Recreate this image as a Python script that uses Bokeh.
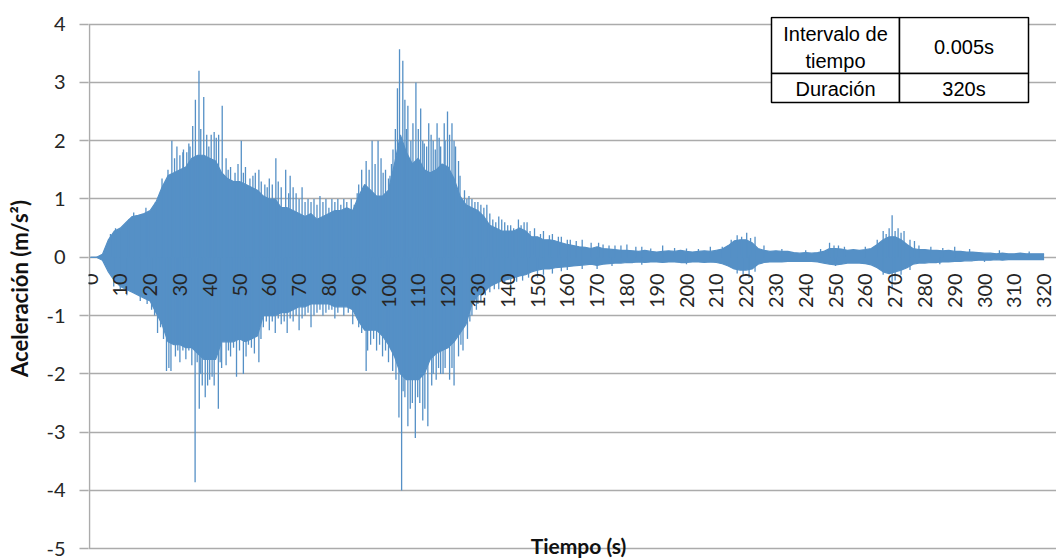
import numpy as np
from bokeh.plotting import figure
from bokeh.models import Range1d, FixedTicker
from bokeh.core.properties import value
from bokeh.embed import file_html
from bokeh.resources import INLINE

# ---------------- data ----------------
duration = 320
t_core = np.arange(0, duration + 1, 2)  # 2-s sampling grid of the envelope

upper_env = [
    0.0, 0.0, 0.05, 0.3, 0.45, 0.5, 0.6, 0.7, 0.72, 0.75,
    0.8, 0.95, 1.2, 1.4, 1.45, 1.5, 1.55, 1.7, 1.75, 1.75,
    1.7, 1.65, 1.45, 1.35, 1.3, 1.3, 1.25, 1.2, 1.15, 1.05,
    1.0, 1.0, 0.85, 0.85, 0.8, 0.75, 0.7, 0.75, 0.65, 0.7,
    0.75, 0.8, 0.8, 0.85, 0.8, 1.05, 1.25, 1.15, 1.05, 1.05,
    1.15, 1.6, 2.1, 1.8, 1.6, 1.7, 1.5, 1.45, 1.5, 1.6,
    1.55, 1.35, 1.05, 0.9, 0.85, 0.8, 0.7, 0.55, 0.5, 0.45,
    0.45, 0.45, 0.5, 0.45, 0.35, 0.35, 0.3, 0.3, 0.28, 0.25,
    0.22, 0.2, 0.18, 0.17, 0.15, 0.18, 0.15, 0.14, 0.13, 0.12,
    0.12,
    0.11, 0.1, 0.12, 0.1, 0.09, 0.1, 0.11, 0.1, 0.12, 0.1,
    0.09, 0.1, 0.11, 0.1, 0.12, 0.14, 0.2,
    0.28, 0.3, 0.3, 0.25, 0.15,
    0.12, 0.1, 0.11, 0.1, 0.1, 0.08, 0.07, 0.08, 0.07, 0.08, 0.1,
    0.15, 0.15, 0.14, 0.12, 0.13, 0.12, 0.13, 0.15, 0.22, 0.3,
    0.35, 0.35, 0.3, 0.22, 0.15, 0.13, 0.13, 0.12, 0.12, 0.11,
    0.12, 0.1, 0.1, 0.09, 0.09, 0.08, 0.07,
    0.07, 0.06, 0.07, 0.06, 0.06, 0.07, 0.06, 0.06, 0.06, 0.06,
]

lower_env = [
    0.0, 0.0, -0.05, -0.25, -0.4, -0.5, -0.55, -0.6, -0.65, -0.7,
    -0.75, -0.95, -1.15, -1.45, -1.5, -1.5, -1.55, -1.55, -1.65, -1.75,
    -1.75, -1.75, -1.45, -1.45, -1.45, -1.4, -1.45, -1.4, -1.35, -1.0,
    -1.0, -1.0, -0.95, -0.95, -0.9, -0.85, -0.85, -0.8, -0.8, -0.8,
    -0.8, -0.85, -0.85, -0.85, -0.9, -1.1, -1.25, -1.25, -1.25, -1.35,
    -1.5, -1.7, -2.0, -2.1, -2.1, -2.1, -2.0, -1.75, -1.65, -1.6,
    -1.55, -1.45, -1.3, -1.15, -0.8, -0.65, -0.6, -0.5, -0.45, -0.4,
    -0.38, -0.35, -0.32, -0.3, -0.25, -0.22, -0.2, -0.2, -0.18, -0.17,
    -0.16, -0.15, -0.14, -0.13, -0.12, -0.14, -0.12, -0.11, -0.1, -0.1,
    -0.09,
    -0.09, -0.08, -0.09, -0.08, -0.08, -0.09, -0.08, -0.08, -0.09, -0.09,
    -0.08, -0.08, -0.09, -0.08, -0.09, -0.11, -0.15,
    -0.2, -0.22, -0.22, -0.2, -0.12,
    -0.09, -0.08, -0.08, -0.08, -0.07, -0.07, -0.07, -0.07, -0.07, -0.08, -0.1,
    -0.12, -0.13, -0.12, -0.1, -0.1, -0.1, -0.11, -0.13, -0.18, -0.25,
    -0.28, -0.25, -0.22, -0.18, -0.12, -0.1, -0.1, -0.09, -0.09, -0.08,
    -0.08, -0.07, -0.07, -0.06, -0.06, -0.05, -0.05,
    -0.05, -0.04, -0.05, -0.04, -0.04, -0.04, -0.04, -0.04, -0.04, -0.04,
]
assert len(upper_env) == len(t_core) and len(lower_env) == len(t_core)

# individual peaks standing out of the envelope (time s, acceleration m/s2)
peaks_up = [
    (6.7, 0.4), (8.4, 0.5), (10, 0.45), (12.8, 0.65), (14.5, 0.77), (16.7, 0.72), (18.6, 0.85),
    (19.5, 0.7), (21.8, 0.95), (24, 1.35), (24.5, 1.2), (26, 1.5), (27.3, 2.0), (28.2, 1.7),
    (29, 1.9), (30, 1.75), (31, 1.8), (31.2, 1.85), (32.3, 1.8), (33, 1.95), (33.4, 1.9),
    (34.3, 2.25), (35.2, 2.7), (36.4, 3.2), (37, 2.2), (38, 2.75), (39, 2.1), (39.7, 1.9),
    (40.5, 2.1), (41.5, 2.15), (42.2, 2.05), (43, 2.1), (44.2, 2.6), (45.5, 1.7), (46.2, 1.5),
    (47, 1.55), (48.5, 1.45), (49.5, 1.6), (50.6, 2.0), (51.3, 1.45), (52, 1.55), (53.5, 1.35),
    (54.5, 1.4), (55.3, 1.45), (56.5, 1.5), (57.3, 1.3), (58.5, 1.25), (59.3, 1.2), (60, 1.35),
    (61, 1.25), (62.2, 1.7), (63, 1.3), (64, 1.2), (65.5, 1.5), (66.5, 1.1), (67, 1.4),
    (68, 1.2), (69, 1.1), (70, 1.0), (71, 1.2), (72, 0.95), (73, 1.0), (74, 0.95), (75, 1.0),
    (76, 0.9), (77, 1.05), (78, 0.95), (79, 1.0), (80, 0.85), (81, 1.0), (82, 0.95), (83, 1.0),
    (84, 0.9), (85, 1.0), (86, 0.95), (87.5, 1.0), (88.5, 0.9), (89.5, 1.1), (90, 1.25),
    (91, 1.5), (92.5, 1.65), (93.5, 1.5), (94.5, 2.0), (95.5, 1.6), (96.5, 2.0), (97.5, 1.7),
    (98.2, 1.45), (99, 1.5), (100, 1.35), (100.5, 1.4), (101, 1.6), (101.5, 1.85), (102.3, 2.2),
    (103, 2.9), (103.7, 3.57), (104.8, 3.37), (105.5, 2.7), (106, 2.2), (106.5, 2.6),
    (107.5, 2.0), (108.2, 2.3), (109.2, 3.0), (110, 2.2), (110.8, 2.55), (111.5, 2.0),
    (112, 1.95), (112.8, 1.9), (113.5, 2.3), (114.3, 2.1), (115, 2.0), (115.7, 1.85),
    (116.3, 2.3), (117, 2.05), (117.5, 1.9), (118.7, 2.3), (119, 2.0), (119.8, 2.5),
    (120.5, 2.1), (121.3, 2.3), (122, 2.0), (122.5, 1.9), (123.5, 1.65), (124, 1.4),
    (125.5, 1.15), (126.3, 1.0), (127, 1.05), (128, 1.0), (129, 0.95), (130, 0.95), (131, 0.9),
    (132, 0.85), (133, 0.9), (134, 0.75), (135, 0.65), (136, 0.6), (137, 0.7), (138, 0.65),
    (139, 0.6), (140, 0.55), (141, 0.55), (142, 0.5), (143.6, 0.65), (144.5, 0.55),
    (145.5, 0.6), (146.5, 0.6), (147.5, 0.45), (149, 0.5), (151, 0.4), (152, 0.45), (154, 0.38),
    (155, 0.4), (157, 0.35), (158, 0.35), (160, 0.3), (161, 0.3), (163, 0.28), (165, 0.3),
    (168, 0.25), (170.5, 0.25), (172, 0.22), (174, 0.2), (176, 0.2), (178, 0.2), (180, 0.22),
    (183, 0.18), (185, 0.18), (188, 0.15), (192, 0.2), (196, 0.16), (200, 0.15), (204, 0.14),
    (208, 0.18), (212, 0.18), (215, 0.3), (217, 0.38), (218.5, 0.35), (220.2, 0.42),
    (221.5, 0.33), (223, 0.35), (226, 0.2), (232, 0.14), (240, 0.12), (245, 0.14), (248, 0.25),
    (249.5, 0.2), (251, 0.2), (253, 0.18), (260, 0.18), (264, 0.3), (266, 0.45), (267, 0.4),
    (268, 0.5), (269, 0.72), (270, 0.45), (271, 0.5), (272, 0.42), (273, 0.45), (275, 0.3),
    (276.5, 0.28), (278, 0.2), (282, 0.18), (286, 0.16), (290, 0.18), (295, 0.14),
    (305, 0.12), (315, 0.1),
]
peaks_dn = [
    (7.8, -0.5), (10, -0.55), (12.2, -0.65), (14.5, -0.6), (16.7, -0.75), (19, -0.8),
    (20.5, -0.9), (21.5, -1.0), (22.5, -1.3), (23.5, -1.2), (24.5, -1.4), (25.5, -1.95),
    (26.3, -1.9), (27, -1.95), (28.5, -1.7), (29.3, -1.6), (30, -1.8), (31, -1.6), (32, -1.75),
    (33, -1.6), (34, -1.85), (35.1, -3.86), (35.8, -1.8), (36.5, -2.6), (37, -2.0),
    (37.5, -2.2), (38.5, -2.4), (39.3, -2.2), (40, -2.1), (40.8, -2.05), (41.5, -2.2),
    (42.9, -2.6), (43.5, -1.8), (44, -1.9), (45.5, -1.85), (46.3, -1.6), (47, -1.7),
    (48, -1.55), (49, -2.05), (50, -1.6), (51.3, -2.0), (52.2, -1.7), (53, -1.5), (54, -1.55),
    (55, -1.65), (56.5, -1.8), (57.2, -1.4), (58, -1.2), (59, -1.1), (60, -1.25), (61, -1.1),
    (62, -1.3), (63, -1.05), (64, -1.15), (65, -1.1), (66, -1.3), (67, -1.05), (68, -1.1),
    (69, -1.0), (70, -1.25), (71, -1.05), (72, -1.0), (73, -0.95), (74, -1.2), (75, -1.0),
    (76, -0.95), (77, -0.9), (78, -1.0), (79, -0.95), (80, -0.9), (81, -0.9), (82, -1.05),
    (83, -0.95), (85, -1.0), (86.5, -0.95), (88, -1.15), (89, -1.0), (90, -1.2), (91, -1.3),
    (92.5, -1.95), (93, -1.6), (94, -1.5), (95, -1.4), (96, -1.6), (97, -1.5), (98, -1.7),
    (99, -1.6), (100, -1.8), (101.4, -1.95), (102.5, -2.1), (103.5, -2.75), (104.4, -4.0),
    (104.9, -2.3), (105.5, -2.4), (106.5, -2.9), (107.3, -2.6), (108, -2.5), (109, -3.1),
    (109.8, -2.4), (110.5, -2.5), (111.5, -2.8), (112.2, -2.6), (113.2, -2.9), (114.5, -2.2),
    (115, -2.0), (116, -2.1), (116.8, -1.9), (117.5, -2.0), (118.3, -2.0), (119, -1.9),
    (120.5, -2.1), (121.3, -1.9), (122, -2.2), (123.5, -1.7), (124.3, -1.5), (125, -1.6),
    (126.5, -1.4), (127.3, -1.1), (128, -1.0), (129.5, -0.9), (130, -0.8), (131, -0.75),
    (132.5, -0.65), (134, -0.6), (135.5, -0.55), (137, -0.55), (139, -0.45), (141, -0.5),
    (143, -0.42), (145, -0.4), (147, -0.35), (150, -0.35), (152, -0.3), (155, -0.28),
    (158, -0.24), (160, -0.22), (165, -0.2), (170, -0.2), (175, -0.15), (185, -0.13),
    (200, -0.12), (217, -0.28), (219, -0.3), (221, -0.35), (223, -0.25), (250, -0.15),
    (266, -0.3), (269, -0.55), (270, -0.4), (272, -0.3), (275, -0.22), (285, -0.12),
    (300, -0.08),
]
peak_up_t = [a for a, b in peaks_up]
peak_up_v = [b for a, b in peaks_up]
peak_dn_t = [a for a, b in peaks_dn]
peak_dn_v = [b for a, b in peaks_dn]

y_ticks = [-5, -4, -3, -2, -1, 0, 1, 2, 3, 4]
y_tick_labels = {v: str(v) for v in y_ticks}  # plain hyphen-minus, as in the original
x_ticks = list(range(0, duration + 1, 10))
x_tick_labels = [str(v) for v in x_ticks]

table_left = ["Intervalo de", "tiempo", "Duración"]
table_right = ["0.005s", "320s"]

# ---------------- layout ----------------
W, H = 1056, 560
FRAME_L, FRAME_T = 88, 16
PXS = 2.98
PYS = 58.3
X0 = -2 / PXS
X1 = X0 + (W - FRAME_L) / PXS
Y1 = 4.13
Y0 = Y1 - (H - FRAME_T) / PYS

def tx(px):
    return X0 + (px - FRAME_L) / PXS

def ty(py):
    return Y1 - (py - FRAME_T) / PYS

BLUE = "#5590C6"
GRID = "#ABABAB"

p = figure(width=W, height=H, output_backend="svg", toolbar_location=None,
           x_range=Range1d(X0, X1), y_range=Range1d(Y0, Y1),
           x_axis_location=None,
           min_border_left=FRAME_L, min_border_right=0,
           min_border_top=FRAME_T, min_border_bottom=0)
p.outline_line_color = None
p.background_fill_color = "white"
p.border_fill_color = "white"
p.xgrid.visible = False
p.ygrid.ticker = FixedTicker(ticks=y_ticks)
p.ygrid.grid_line_color = GRID
p.ygrid.grid_line_width = 1.3

ax = p.yaxis[0]
ax.ticker = FixedTicker(ticks=y_ticks)
ax.major_label_overrides = y_tick_labels
ax.axis_line_color = None
ax.major_tick_out = 9
ax.major_tick_in = 0
ax.major_tick_line_color = GRID
ax.major_tick_line_width = 1.3
ax.minor_tick_line_color = None
ax.major_label_text_font = "Lato"
ax.major_label_text_font_size = "20px"
ax.major_label_text_color = "#262626"
ax.major_label_standoff = 14
ax.axis_label = "Aceleración (m/s²)"
ax.axis_label_text_font = "Lato"
ax.axis_label_text_font_style = "bold"
ax.axis_label_text_font_size = "22px"
ax.axis_label_text_color = "#111111"
ax.axis_label_standoff = 10

# vertical axis line
p.segment(x0=[tx(89)], y0=[y_ticks[0]], x1=[tx(89)], y1=[y_ticks[-1]],
          line_color=GRID, line_width=1.5)

# signal
p.varea(x=t_core, y1=lower_env, y2=upper_env, fill_color=BLUE)
p.line(t_core, upper_env, line_color=BLUE, line_width=1.2)
p.line(t_core, lower_env, line_color=BLUE, line_width=1.2)
p.segment(x0=peak_up_t, y0=[0] * len(peak_up_t), x1=peak_up_t, y1=peak_up_v,
          line_color=BLUE, line_width=1.3)
p.segment(x0=peak_dn_t, y0=[0] * len(peak_dn_t), x1=peak_dn_t, y1=peak_dn_v,
          line_color=BLUE, line_width=1.3)

# category-style tick labels sitting under the zero line
p.text(x=x_ticks, y=[0] * len(x_ticks), text=x_tick_labels, angle=np.pi / 2,
       text_align="right", text_baseline="middle", y_offset=16,
       text_font=value("Lato"), text_font_size=value("20px"), text_color="#262626")

# x axis title
p.text(x=[tx(578)], y=[ty(545)], text=["Tiempo (s)"], text_align="center",
       text_baseline="middle", text_font=value("Lato"), text_font_style="bold",
       text_font_size=value("21px"), text_color="#111111")

# info table
TL, TM, TR = 771, 899, 1028
TT, TMID, TB = 17, 73, 102
p.quad(left=[tx(TL), tx(TM), tx(TL), tx(TM)], right=[tx(TM), tx(TR), tx(TM), tx(TR)],
       top=[ty(TT), ty(TT), ty(TMID), ty(TMID)], bottom=[ty(TMID), ty(TMID), ty(TB), ty(TB)],
       fill_color="white", line_color="black", line_width=1.5)
cl = (TL + TM) / 2
cr = (TM + TR) / 2
p.text(x=[tx(cl), tx(cl), tx(cl)], y=[ty(33), ty(60), ty(88)], text=table_left,
       text_align="center", text_baseline="middle", text_font=value("Liberation Sans"),
       text_font_size=value("20px"), text_color="black")
p.text(x=[tx(cr), tx(cr)], y=[ty(46), ty(88)], text=table_right,
       text_align="center", text_baseline="middle", text_font=value("Liberation Sans"),
       text_font_size=value("20px"), text_color="black")

open("out.html", "w").write(file_html(p, INLINE))
